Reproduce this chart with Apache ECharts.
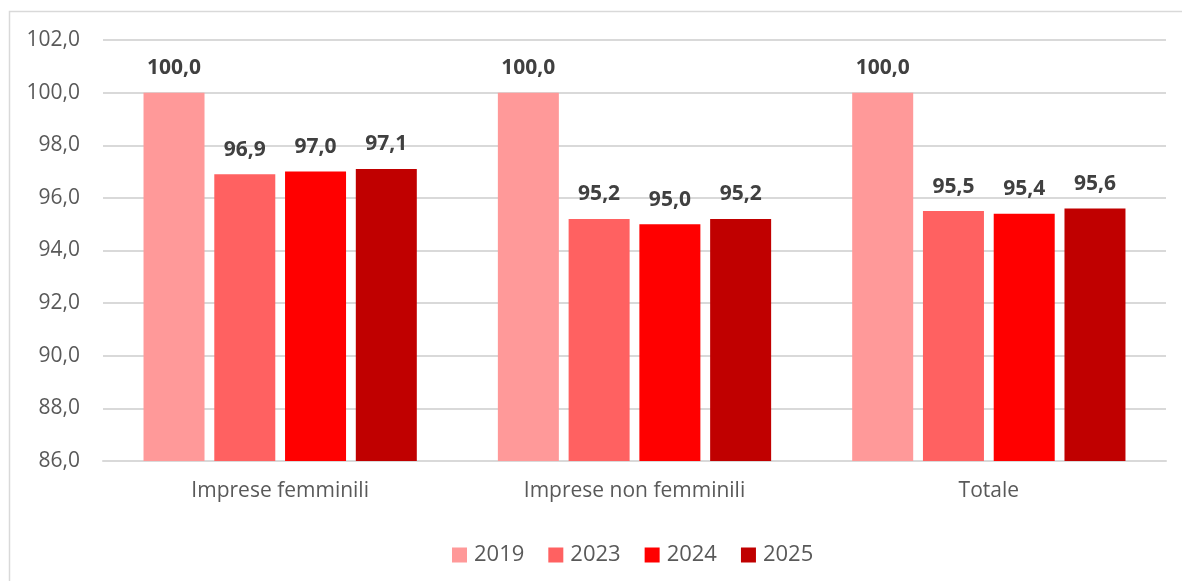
<!DOCTYPE html>
<html><head><meta charset="utf-8">
<script src="https://cdn.jsdelivr.net/npm/echarts@6/dist/echarts.min.js"></script>
<style>html,body{margin:0;padding:0;background:#fff}#c{width:1182px;height:581px}</style>
</head><body><div id="c"></div>
<script>
const categories = ['Imprese femminili', 'Imprese non femminili', 'Totale'];
const seriesNames = ['2019', '2023', '2024', '2025'];
const v2019 = [100.0, 100.0, 100.0];
const v2023 = [96.9, 95.2, 95.5];
const v2024 = [97.0, 95.0, 95.4];
const v2025 = [97.1, 95.2, 95.6];
const yTicks = [86, 88, 90, 92, 94, 96, 98, 100, 102];
const colors = ['#FF9999', '#FF6161', '#FF0000', '#C00000'];
const values = [v2019, v2023, v2024, v2025];
const font = 'Open Sans, Liberation Sans, sans-serif';
const fmt = v => v.toFixed(1).replace('.', ',');

const chart = echarts.init(document.getElementById('c'));
chart.setOption({
  animation: false,
  graphic: [{type:'rect', shape:{x:9.5, y:11.5, width:1200, height:600}, style:{fill:'none', stroke:'#d9d9d9', lineWidth:1.5}, silent:true}],
  grid: {left:103, right:16, top:40, bottom:120},
  legend: {
    data: seriesNames, top: 539, left: 447, itemWidth: 15, itemHeight: 15, itemGap: 24,
    icon: 'rect',
    textStyle: {fontSize: 22, color: '#595959', fontFamily: font, padding:[0,0,0,2]}
  },
  xAxis: {
    type:'category', data: categories,
    axisLine:{lineStyle:{color:'#d9d9d9', width:2}}, axisTick:{show:false},
    axisLabel:{fontSize:21, color:'#595959', fontFamily:font, margin:20}
  },
  yAxis: {
    type:'value', min: yTicks[0], max: yTicks[yTicks.length-1], interval: 2,
    axisLine:{show:false}, axisTick:{show:false},
    splitLine:{lineStyle:{color:'#d9d9d9', width:2}},
    axisLabel:{fontSize:21, color:'#595959', fontFamily:font, margin:23, formatter: fmt}
  },
  series: seriesNames.map((n,i) => ({
    name: n, type:'bar', data: values[i], barWidth: 61, barGap: '16%',
    itemStyle:{color: colors[i]},
    label:{show:true, position:'top', distance:14, fontSize:21, fontWeight:'bold', color:'#404040', fontFamily:font, formatter: p => fmt(p.value)}
  }))
});
</script></body></html>
